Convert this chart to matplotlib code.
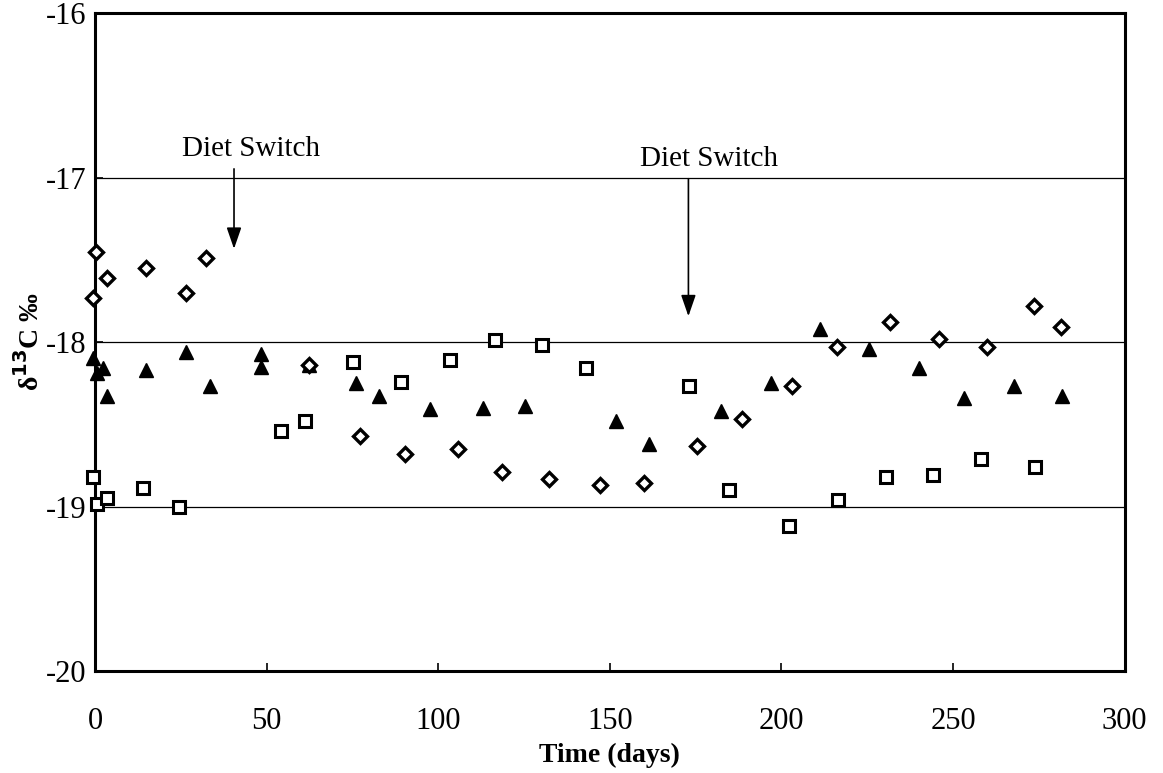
import matplotlib.pyplot as plt

plt.rcParams['font.family'] = ['Liberation Serif', 'DejaVu Serif']
plt.rcParams['axes.unicode_minus'] = False

# open diamonds
diamond_days = [-0.5, 0.3, 3.4, 14.8, 26.5, 32.3, 62.3, 77.2, 90.3, 105.7, 118.6, 132.4,
                147.1, 160.1, 175.4, 188.6, 203.2, 216.3, 231.6, 246.0, 259.9, 273.6, 281.5]
diamond_d13c = [-17.73, -17.45, -17.61, -17.55, -17.70, -17.49, -18.14, -18.57, -18.68, -18.65, -18.79, -18.83,
                -18.87, -18.86, -18.63, -18.47, -18.27, -18.03, -17.88, -17.98, -18.03, -17.78, -17.91]

# filled triangles
triangle_days = [-0.5, 0.5, 2.4, 3.4, 14.8, 26.5, 33.5, 48.4, 48.4, 62.3, 76.1, 82.8, 97.5,
                 113.0, 125.4, 151.9, 161.3, 182.5, 197.1, 211.3, 225.5, 240.0, 253.1, 267.8, 281.7]
triangle_d13c = [-18.10, -18.19, -18.16, -18.33, -18.17, -18.06, -18.27, -18.07, -18.15, -18.14, -18.25, -18.33, -18.41,
                 -18.40, -18.39, -18.48, -18.62, -18.42, -18.25, -17.92, -18.04, -18.16, -18.34, -18.27, -18.33]

# open squares
square_days = [-0.5, 0.5, 3.4, 13.9, 24.5, 54.3, 61.2, 75.1, 89.1, 103.5, 116.4, 130.1, 143.1,
               173.1, 184.6, 202.2, 216.5, 230.6, 244.1, 258.1, 273.8]
square_d13c = [-18.82, -18.985, -18.95, -18.89, -19.005, -18.54, -18.48, -18.12, -18.24, -18.11, -17.99, -18.02, -18.16,
               -18.27, -18.90, -19.12, -18.96, -18.82, -18.81, -18.71, -18.76]

switch_days = [40.5, 172.9]
switch_tip = [-17.45, -17.86]
switch_text_x = [45.5, 179]
switch_text_y = [-16.87, -16.93]

fig, ax = plt.subplots(figsize=(11.63, 7.73), dpi=100)
fig.subplots_adjust(left=0.0817, right=0.967, top=0.983, bottom=0.132)

for gy in [-17, -18, -19]:
    ax.axhline(gy, color='black', lw=0.9, zorder=1)

ax.plot(square_days, square_d13c, ls='none', marker='s', ms=9, mfc='white', mec='black', mew=2.2,
        zorder=3, clip_on=False)
ax.plot(triangle_days, triangle_d13c, ls='none', marker='^', ms=10, color='black', zorder=3, clip_on=False)
ax.plot(diamond_days, diamond_d13c, ls='none', marker='D', ms=7, mfc='white', mec='black', mew=2.4,
        zorder=4, clip_on=False)

for sx, st, tx, ty in zip(switch_days, switch_tip, switch_text_x, switch_text_y):
    ax.text(tx, ty, 'Diet Switch', ha='center', va='baseline', fontsize=21)
    ax.annotate('', xy=(sx, st), xytext=(sx, ty - 0.06),
                arrowprops=dict(arrowstyle='-|>,head_length=1.3,head_width=0.45', color='black', lw=1.2))

ax.set_xlim(0, 300)
ax.set_ylim(-20, -16)
ax.set_xticks([0, 50, 100, 150, 200, 250, 300])
ax.set_yticks([-20, -19, -18, -17, -16])
ax.tick_params(axis='both', labelsize=22, direction='in', length=6, width=1.2)
ax.tick_params(axis='x', pad=26)
ax.tick_params(axis='y', pad=6)
for sp in ax.spines.values():
    sp.set_linewidth(2.2)

ax.set_xlabel('Time (days)', fontsize=20, fontweight='bold', labelpad=5)
ax.set_ylabel('δ$^{\\mathbf{13}}$C ‰', fontsize=20, fontweight='bold', labelpad=1)

fig.savefig('out.png', dpi=100)
